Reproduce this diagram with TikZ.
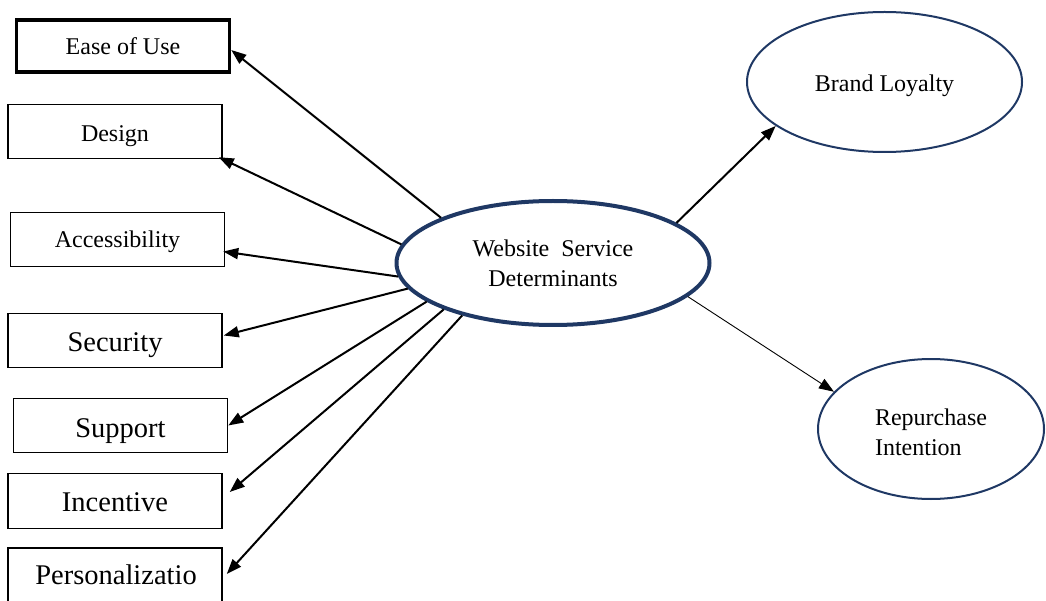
\documentclass[tikz,border=0pt]{standalone}
\usepackage{fontspec}
\setmainfont{Liberation Serif}
\usetikzlibrary{arrows.meta,shapes.geometric,calc}
\definecolor{navy}{RGB}{31,56,100}
\tikzset{
  box/.style={draw=black,line width=1.5pt,rectangle,minimum width=214pt,minimum height=54pt,inner sep=0pt,text=black},
  smalltxt/.style={font=\fontsize{24}{30}\selectfont,text height=24pt},
  bigtxt/.style={font=\fontsize{28.5}{34}\selectfont,text height=28pt},
  oval/.style={draw=navy,ellipse,inner sep=0pt,line width=2pt,font=\fontsize{24}{30}\selectfont},
  arr/.style={line width=2pt,-{Triangle[length=15pt,width=11pt]}},
  thinarr/.style={line width=0.9pt,-{Triangle[length=15pt,width=11pt]}}
}
\begin{document}
\begin{tikzpicture}[x=1pt,y=-1pt]
\useasboundingbox (0,0) rectangle (1046,601);
% boxes
\node[box,smalltxt,text depth=6pt,line width=3.5pt,minimum width=213pt,minimum height=52pt] (b1) at (123,46) {Ease of Use};
\node[box,smalltxt,text depth=3.6pt] (b2) at (115,131.5) {Design};
\node[box,smalltxt,text depth=7pt] (b3) at (117.5,239.5) {Accessibility};
\node[box,bigtxt,text depth=5pt] (b4) at (115,340.5) {Security};
\node[box,bigtxt,text depth=5pt] (b5) at (120.5,425.5) {Support};
\node[box,bigtxt,text depth=8pt,minimum height=55pt] (b6) at (115,501) {Incentive};
\node[box,minimum height=60pt] (b7) at (115,578) {};
\node[font=\fontsize{28.5}{34}\selectfont,inner sep=0pt] (t7) at (116,575) {Personalizatio};
% ellipses
\node[oval,line width=4pt,minimum width=313pt,minimum height=124pt,align=center] (c) at (553,263) {Website\ \ Service\\Determinants};
\node[oval,minimum width=275pt,minimum height=140pt,text height=24pt,text depth=4pt] (bl) at (884.5,82) {Brand Loyalty};
\node[oval,minimum width=226pt,minimum height=140pt] (ri) at (931,429) {};
\node[font=\fontsize{24}{30}\selectfont,align=left,inner sep=0pt] (rit) at (931,432) {Repurchase\\Intention};
% arrows
\draw[arr] (c.158.6) -- ($(b1.east)+(0,4)$);
\draw[arr] (c.173.4) -- ($(b2.south east)+(-4,-2)$);
\draw[arr] (c.185.8) -- ($(b3.east)+(-2,12)$);
\draw[arr] (c.190.9) -- ($(b4.east)+(1,-5)$);
\draw[arr] (c.197.7) -- (b5.east);
\draw[arr] (c.203.3) -- ($(b6.east)+(7,-9)$);
\draw[arr] (c.210.6) -- ($(b7.east)+(4,-4)$);
\draw[arr] (c.18.3) -- (bl.202.9);
\draw[thinarr] (c.346.9) -- (ri.159.3);
\end{tikzpicture}
\end{document}
